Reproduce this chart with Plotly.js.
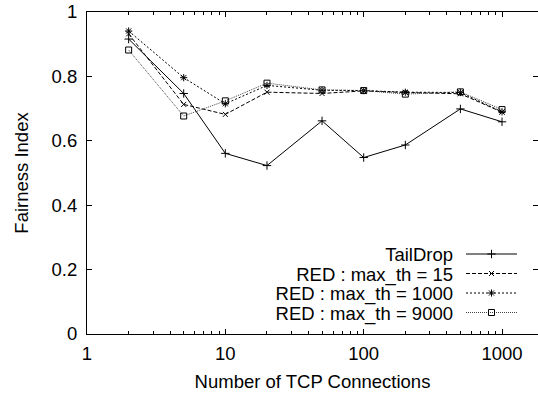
<!DOCTYPE html>
<html>
<head>
<meta charset="utf-8">
<script src="https://cdn.plot.ly/plotly-3.0.1.min.js"></script>
<style>
html,body{margin:0;padding:0;background:#fff;}
#chart{width:538px;height:396px;}
</style>
</head>
<body>
<div id="chart"></div>
<script>
// ---- data ----
var connections = [2, 5, 10, 20, 50, 100, 200, 500, 1000];
var tailDrop   = [0.916, 0.747, 0.561, 0.523, 0.662, 0.548, 0.587, 0.699, 0.659];
var red15      = [0.932, 0.713, 0.682, 0.751, 0.747, 0.755, 0.750, 0.746, 0.689];
var red1000    = [0.941, 0.796, 0.715, 0.772, 0.757, 0.756, 0.751, 0.750, 0.690];
var red9000    = [0.882, 0.677, 0.724, 0.779, 0.758, 0.756, 0.745, 0.752, 0.697];
var seriesNames = ['TailDrop', 'RED : max_th = 15', 'RED : max_th = 1000', 'RED : max_th = 9000'];
var xTickVals = [1, 10, 100, 1000];
var xTickText = ['1', '10', '100', '1000'];
var xMinorVals = [2,3,4,5,6,7,8,9,20,30,40,50,60,70,80,90,200,300,400,500,600,700,800,900];

var FONT = 'Liberation Sans, Arial, Helvetica, sans-serif';
var FS = 18.5;

function tr(y, name, dash, color, sym, msize) {
  return {
    x: connections, y: y, name: name, type: 'scatter', mode: 'lines+markers',
    line: {color: color, width: 1, dash: dash},
    marker: {symbol: sym, size: msize, color: '#000', line: {color: '#000', width: 1}}
  };
}
var traces = [
  tr(tailDrop, seriesNames[0], 'solid', '#000', 'cross-thin-open', 6),
  tr(red15, seriesNames[1], '4px,2px', '#000', 'x-thin-open', 5),
  tr(red1000, seriesNames[2], '2px,2px', '#000', 'asterisk-open', 6),
  tr(red9000, seriesNames[3], '1px,1px', '#444', 'square-open', 6)
];

var layout = {
  width: 538, height: 396,
  margin: {l: 87, r: 0, t: 12, b: 62},
  paper_bgcolor: '#fff', plot_bgcolor: '#fff',
  font: {family: FONT, size: FS, color: '#000'},
  showlegend: true,
  legend: {x: 1, y: 0, xanchor: 'right', yanchor: 'bottom', bgcolor: 'rgba(0,0,0,0)',
           borderwidth: 0, font: {family: FONT, size: FS, color: '#000'}, traceorder: 'normal'},
  xaxis: {
    type: 'log', range: [0, 3.26],
    tickmode: 'array', tickvals: xTickVals, ticktext: xTickText,
    ticks: 'inside', ticklen: 5, tickwidth: 1, tickcolor: '#000',
    minor: {tickmode: 'array', tickvals: xMinorVals, ticks: 'inside', ticklen: 3, tickwidth: 1, tickcolor: '#000', showgrid: false},
    showline: true, linecolor: '#000', linewidth: 1, mirror: 'ticks',
    showgrid: false, zeroline: false,
    ticklabelstandoff: 3,
    tickfont: {family: FONT, size: FS, color: '#000'},
    title: {text: 'Number of TCP Connections', font: {family: FONT, size: FS, color: '#000'}, standoff: 11},
    automargin: false
  },
  yaxis: {
    range: [0, 1], tickmode: 'linear', tick0: 0, dtick: 0.2,
    ticks: 'inside', ticklen: 5, tickwidth: 1, tickcolor: '#000',
    showline: true, linecolor: '#000', linewidth: 1, mirror: 'ticks',
    showgrid: false, zeroline: false,
    ticklabelstandoff: 5,
    tickfont: {family: FONT, size: FS, color: '#000'},
    title: {text: 'Fairness Index', font: {family: FONT, size: FS, color: '#000'}, standoff: 18},
    automargin: false
  }
};

Plotly.newPlot('chart', traces, layout, {staticPlot: true}).then(function (gd) {
  // gnuplot-style key: text right-aligned, sample to its right
  var leg = gd.querySelector('.legend');
  if (!leg) return;
  leg.setAttribute('transform', 'translate(0,0)');
  var sb = leg.querySelector('.scrollbox');
  if (sb) { sb.removeAttribute('clip-path'); sb.setAttribute('transform', 'translate(0,0)'); }
  var bg = leg.querySelector('.bg'); if (bg) bg.style.display = 'none';
  var rowY = [254, 273.5, 293, 312.5];
  var textRight = 453, sampleX = 466, sampleLen = 51;
  var items = leg.querySelectorAll('.traces');
  items.forEach(function (it, i) {
    it.setAttribute('transform', 'translate(0,' + rowY[i] + ')');
    var t = it.querySelector('.legendtext');
    if (t) { t.setAttribute('x', textRight); t.setAttribute('text-anchor', 'end'); t.style.textAnchor = 'end'; }
    var layers = it.querySelector('.layers');
    if (layers) layers.setAttribute('transform', 'translate(' + sampleX + ',0)');
    var lp = it.querySelectorAll('.legendlines path');
    lp.forEach(function (p) { p.setAttribute('d', 'M0,0h' + sampleLen); });
    var pts = it.querySelectorAll('.legendpoints path.scatterpts');
    pts.forEach(function (p) { p.setAttribute('transform', 'translate(' + (sampleLen / 2) + ',0)'); });
  });
});
</script>
</body>
</html>
